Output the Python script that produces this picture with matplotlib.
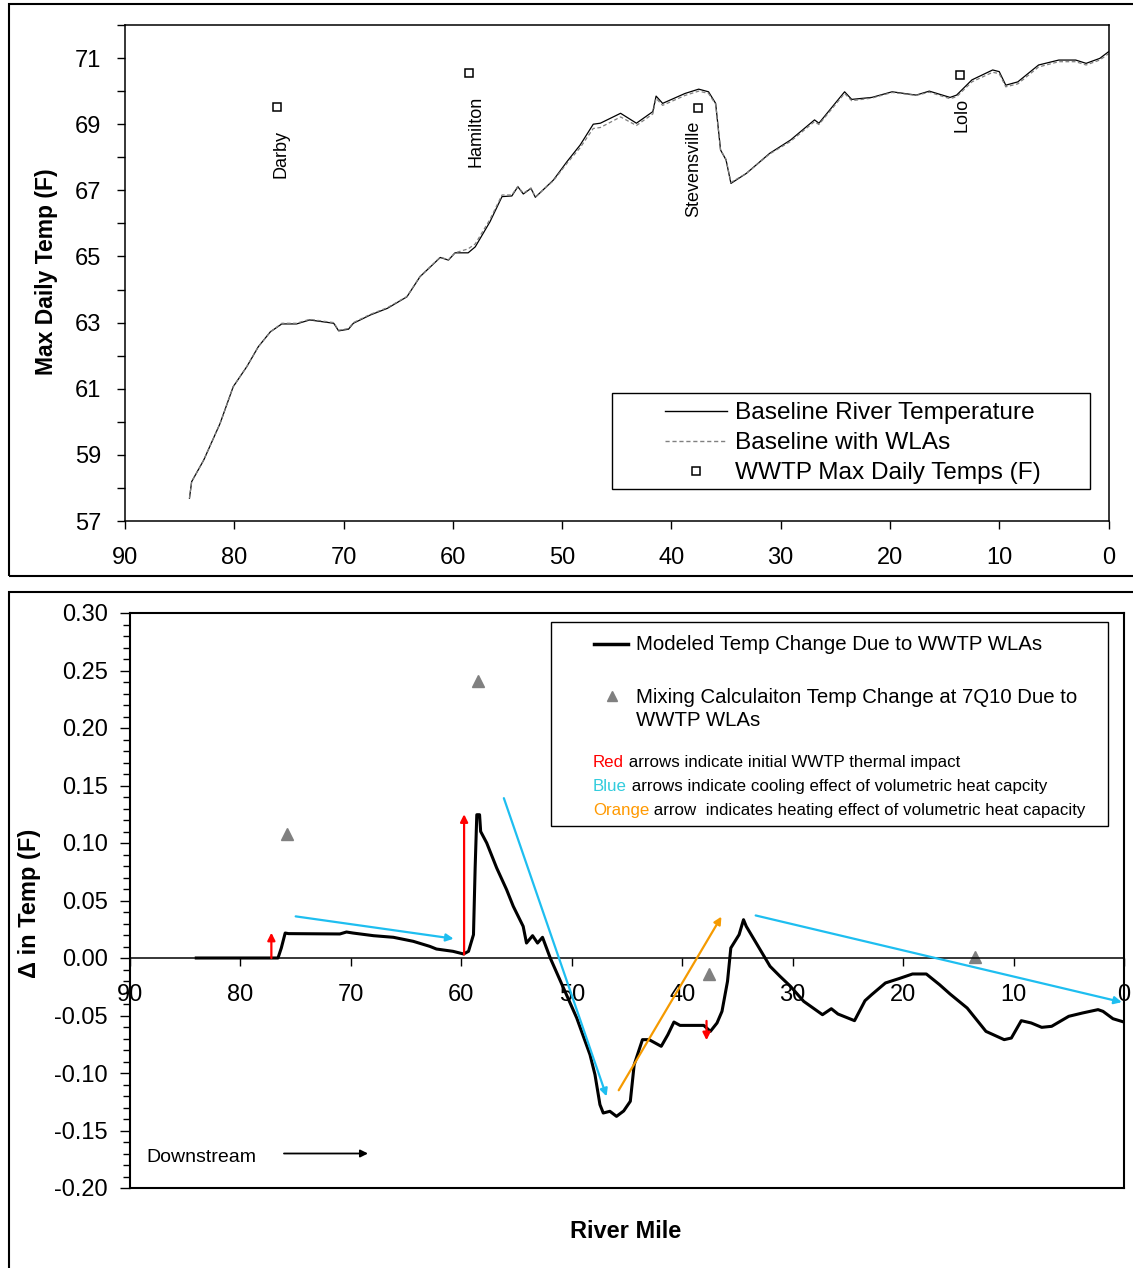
import matplotlib
matplotlib.use('Agg')
import matplotlib.pyplot as plt
from matplotlib.lines import Line2D
from matplotlib.patches import Rectangle
from matplotlib.ticker import MultipleLocator, FormatStrFormatter

plt.rcParams['font.family'] = ['Liberation Sans', 'DejaVu Sans']

# ---------------- data ----------------
base_mile = [84.1, 83.9, 82.8, 81.3, 80.1, 78.85, 77.8, 76.7, 75.65, 74.3, 73.1, 70.9, 70.45,
             69.55, 69.1, 67.55, 66.0, 64.2, 63.0, 61.15, 60.4, 59.8, 58.6, 57.95, 56.6, 55.5,
             54.6, 54.05, 53.55, 52.85, 52.45, 50.8, 49.55, 48.35, 47.15, 46.5, 44.65, 43.2,
             41.7, 41.4, 40.8, 38.75, 37.5, 36.6, 35.95, 35.5, 35.0, 34.55, 33.15, 31.0, 29.1,
             26.9, 26.5, 24.15, 23.5, 21.65, 19.8, 17.6, 16.4, 14.5, 13.9, 12.5, 10.6, 10.0,
             9.4, 8.3, 6.4, 4.55, 3.0, 2.05, 0.8, 0.0]
base_temp = [57.69, 58.19, 58.84, 59.95, 61.06, 61.67, 62.27, 62.72, 62.96, 62.96, 63.08, 62.98,
             62.75, 62.80, 62.98, 63.23, 63.43, 63.78, 64.39, 64.97, 64.89, 65.11, 65.11, 65.29,
             66.05, 66.81, 66.83, 67.11, 66.89, 67.06, 66.79, 67.31, 67.87, 68.37, 69.00, 69.03,
             69.33, 69.03, 69.38, 69.85, 69.63, 69.93, 70.06, 69.98, 69.63, 68.22, 67.92, 67.21,
             67.51, 68.12, 68.52, 69.13, 69.03, 69.98, 69.75, 69.81, 69.98, 69.88, 70.00, 69.81,
             69.88, 70.34, 70.64, 70.59, 70.18, 70.28, 70.79, 70.94, 70.94, 70.84, 70.99, 71.19]
wla_temp = [57.69, 58.19, 58.84, 59.95, 61.06, 61.67, 62.27, 62.72, 62.98, 62.98, 63.10, 63.00,
            62.77, 62.82, 63.00, 63.25, 63.45, 63.79, 64.40, 64.98, 64.90, 65.11, 65.23, 65.38,
            66.12, 66.86, 66.86, 67.12, 66.91, 67.07, 66.80, 67.29, 67.82, 68.29, 68.87, 68.90,
            69.22, 68.96, 69.31, 69.78, 69.57, 69.87, 70.00, 69.93, 69.60, 68.22, 67.94, 67.24,
            67.51, 68.10, 68.48, 69.08, 68.99, 69.93, 69.71, 69.79, 69.96, 69.87, 69.97, 69.77,
            69.83, 70.28, 70.57, 70.53, 70.13, 70.22, 70.73, 70.89, 70.89, 70.79, 70.94, 71.13]

wwtp_names = ['Darby', 'Hamilton', 'Stevensville', 'Lolo']
wwtp_mile = [76.05, 58.55, 37.6, 13.6]
wwtp_temp = [69.53, 70.54, 69.48, 70.50]

delta_mile = [84.0, 76.6, 76.3, 75.95, 75.65, 71.0, 70.4, 69.8, 67.95, 66.15, 64.35, 62.85, 62.25,
              60.75, 59.8, 59.35, 58.9, 58.75, 58.6, 58.35, 58.25, 57.7, 56.8, 55.9, 55.3, 54.4,
              54.1, 53.55, 53.1, 52.65, 51.95, 50.75, 49.55, 48.35, 47.9, 47.45, 47.15, 46.55,
              45.95, 45.3, 44.7, 44.35, 43.6, 43.0, 41.9, 41.3, 40.75, 40.2, 38.05, 37.45, 36.85,
              36.4, 35.9, 35.6, 34.85, 34.45, 34.2, 33.3, 32.05, 31.15, 30.2, 29.0, 27.3, 26.5,
              25.9, 24.4, 23.45, 22.85, 21.6, 20.4, 19.15, 17.9, 16.7, 15.75, 14.2, 12.5, 10.85,
              10.2, 9.3, 8.4, 7.45, 6.55, 5.0, 3.75, 2.35, 1.9, 1.0, 0.0]
delta_val = [0.0, 0.0, 0.0087, 0.0217, 0.0212, 0.0209, 0.0226, 0.0217, 0.0194, 0.0180, 0.0145,
             0.0101, 0.0078, 0.0058, 0.0035, 0.0058, 0.0203, 0.0783, 0.1246, 0.1246, 0.110,
             0.100, 0.0783, 0.0594, 0.045, 0.0275, 0.013, 0.0194, 0.013, 0.018, 0.0, -0.0261,
             -0.0522, -0.0841, -0.1014, -0.1275, -0.1348, -0.1333, -0.1377, -0.133, -0.1246,
             -0.0928, -0.071, -0.071, -0.0768, -0.0667, -0.0557, -0.0586, -0.0586, -0.0638,
             -0.0565, -0.0464, -0.0203, 0.0087, 0.0203, 0.0333, 0.0275, 0.013, -0.0072, -0.0159,
             -0.0246, -0.0377, -0.0493, -0.0441, -0.0487, -0.0545, -0.0371, -0.0319, -0.0217,
             -0.018, -0.0139, -0.0139, -0.0232, -0.0313, -0.0435, -0.0638, -0.071, -0.0696,
             -0.0545, -0.0565, -0.0603, -0.0594, -0.0507, -0.0478, -0.0449, -0.0464, -0.0528,
             -0.0557]

mix_mile = [75.8, 58.5, 37.6, 13.5]
mix_val = [0.108, 0.241, -0.0135, 0.001]

RED, BLUE, ORANGE = '#FF0000', '#1EBEF0', '#F59A00'
# annotation arrows: (start mile, start value, end mile, end value, colour)
arrow_start_mile = [77.2, 59.75, 37.8, 75.0, 56.15, 45.75, 33.35]
arrow_start_val = [0.0, 0.003, -0.0547, 0.0362, 0.139, -0.115, 0.037]
arrow_end_mile = [77.2, 59.75, 37.8, 60.7, 46.85, 36.45, 0.2]
arrow_end_val = [0.022, 0.125, -0.0715, 0.0168, -0.1203, 0.036, -0.0384]
arrow_color = [RED, RED, RED, BLUE, BLUE, ORANGE, BLUE]

x_ticks = list(range(0, 91, 10))

# ---------------- figure ----------------
W, H = 1133, 1268
fig = plt.figure(figsize=(W / 100, H / 100), dpi=100)


def fx(x):
    return x / W


def fy(y):
    return 1 - y / H


# panel frames
fig.add_artist(Rectangle((fx(9), fy(576)), 1.2, (576 - 4) / H, transform=fig.transFigure,
                         fill=False, ec='black', lw=1.5))
fig.add_artist(Rectangle((fx(9), fy(1290)), 1.2, (1290 - 592) / H, transform=fig.transFigure,
                         fill=False, ec='black', lw=1.5))

# ---------- top axes ----------
ax1 = fig.add_axes([fx(125), fy(521), (1108.5 - 125) / W, (521 - 25) / H])
ax1.plot(base_mile, base_temp, color='black', lw=0.9)
ax1.plot(base_mile, wla_temp, color='#808080', lw=0.9, ls=(0, (3, 2)))
ax1.plot(wwtp_mile, wwtp_temp, ls='none', marker='s', ms=6, mfc='white', mec='black', mew=1.1)
ax1.set_xlim(90, 0)
ax1.set_ylim(57, 72)
ax1.set_xticks(x_ticks)
ax1.set_yticks(list(range(57, 72, 2)))
ax1.yaxis.set_minor_locator(MultipleLocator(1))
ax1.tick_params(axis='x', direction='out', length=6, width=1, pad=13, labelsize=17)
ax1.tick_params(axis='y', which='both', direction='out', length=6, width=1, pad=11, labelsize=17)
for s in ax1.spines.values():
    s.set_linewidth(1.1)

label_mile = [75.7, 57.87, 38.0, 13.4]
label_temp = [68.10, 68.78, 67.64, 69.28]
for name, m, t in zip(wwtp_names, label_mile, label_temp):
    ax1.text(m, t, name, rotation=90, ha='center', va='center', fontsize=13)

fig.text(fx(47), fy(272), 'Max Daily Temp (F)', rotation=90, ha='center', va='center',
         fontsize=16.5, fontweight='bold')

# top legend (manual)
fig.add_artist(Rectangle((fx(612), fy(489)), (1090 - 612) / W, (489 - 393) / H,
                         transform=fig.transFigure, fill=False, ec='black', lw=1))
fig.add_artist(Line2D([fx(665), fx(727)], [fy(411)] * 2, color='black', lw=1,
                      transform=fig.transFigure))
fig.add_artist(Line2D([fx(665), fx(727)], [fy(441)] * 2, color='#808080', lw=1,
                      ls=(0, (3, 2)), transform=fig.transFigure))
fig.add_artist(Line2D([fx(696)], [fy(471)], ls='none', marker='s', ms=6, mfc='white',
                      mec='black', mew=1.1, transform=fig.transFigure))
for txt, yy in zip(['Baseline River Temperature', 'Baseline with WLAs',
                    'WWTP Max Daily Temps (F)'], [413, 443, 473]):
    fig.text(fx(735), fy(yy), txt, ha='left', va='center', fontsize=17.6)

# ---------- bottom axes ----------
ax2 = fig.add_axes([fx(130), fy(1188), (1124 - 130) / W, (1188 - 613) / H])
ax2.plot(delta_mile, delta_val, color='black', lw=2.2)
ax2.plot(mix_mile, mix_val, ls='none', marker='^', ms=8, color='#808080')
ax2.set_xlim(90, 0)
ax2.set_ylim(-0.2, 0.3)
ax2.spines['bottom'].set_position(('data', 0))
ax2.axhline(-0.2, color='black', lw=1.5, clip_on=False)
for s in ['left', 'right', 'top']:
    ax2.spines[s].set_linewidth(1.5)
ax2.spines['bottom'].set_linewidth(1.1)
ax2.set_xticks(x_ticks)
ax2.yaxis.set_major_locator(MultipleLocator(0.05))
ax2.yaxis.set_minor_locator(MultipleLocator(0.01))
ax2.yaxis.set_major_formatter(FormatStrFormatter('%.2f'))
ax2.tick_params(axis='x', direction='out', length=6, width=1, pad=13, labelsize=17)
ax2.tick_params(axis='y', which='major', direction='out', length=7, width=1, pad=9, labelsize=17)
ax2.tick_params(axis='y', which='minor', direction='out', length=5, width=1)

for x0, y0, x1, y1, c in zip(arrow_start_mile, arrow_start_val, arrow_end_mile, arrow_end_val,
                             arrow_color):
    ax2.annotate('', xy=(x1, y1), xytext=(x0, y0),
                 arrowprops=dict(arrowstyle='-|>', color=c, lw=1.6, mutation_scale=11,
                                 shrinkA=0, shrinkB=0))

ax2.text(88.55, -0.1735, 'Downstream', fontsize=14, ha='left', va='center')
ax2.annotate('', xy=(68.45, -0.170), xytext=(76.06, -0.170),
             arrowprops=dict(arrowstyle='-|>', color='black', lw=1.3, mutation_scale=11,
                             shrinkA=0, shrinkB=0))

fig.text(fx(30), fy(903), 'Δ in Temp (F)', rotation=90, ha='center', va='center',
         fontsize=17, fontweight='bold')
fig.text(fx(626), fy(1231), 'River Mile', ha='center', va='center', fontsize=17,
         fontweight='bold')

# bottom legend (manual)
fig.add_artist(Rectangle((fx(551), fy(826)), (1108 - 551) / W, (826 - 622) / H,
                         transform=fig.transFigure, fill=False, ec='black', lw=1))
fig.add_artist(Line2D([fx(594), fx(628)], [fy(644)] * 2, color='black', lw=2.5,
                      transform=fig.transFigure))
fig.add_artist(Line2D([fx(612)], [fy(696)], ls='none', marker='^', ms=7, color='#808080',
                      transform=fig.transFigure))
fig.text(fx(636), fy(645), 'Modeled Temp Change Due to WWTP WLAs', ha='left', va='center',
         fontsize=14.7)
fig.text(fx(636), fy(709), 'Mixing Calculaiton Temp Change at 7Q10 Due to\nWWTP WLAs',
         ha='left', va='center', fontsize=14.7, linespacing=1.25)

notes = [('Red', RED, ' arrows indicate initial WWTP thermal impact'),
         ('Blue', '#33CCDD', ' arrows indicate cooling effect of volumetric heat capcity'),
         ('Orange', '#FF9900', ' arrow  indicates heating effect of volumetric heat capacity')]
for (word, col, rest), yy in zip(notes, [767, 791, 815]):
    t = fig.text(fx(593), fy(yy), word, color=col, fontsize=12.2, ha='left', va='baseline')
    fig.add_artist(matplotlib.text.Annotation(rest, xy=(1, fy(yy)),
                                              xycoords=(t, 'figure fraction'),
                                              va='baseline', ha='left', fontsize=12.2,
                                              color='black'))

fig.savefig('out.png', dpi=100)
